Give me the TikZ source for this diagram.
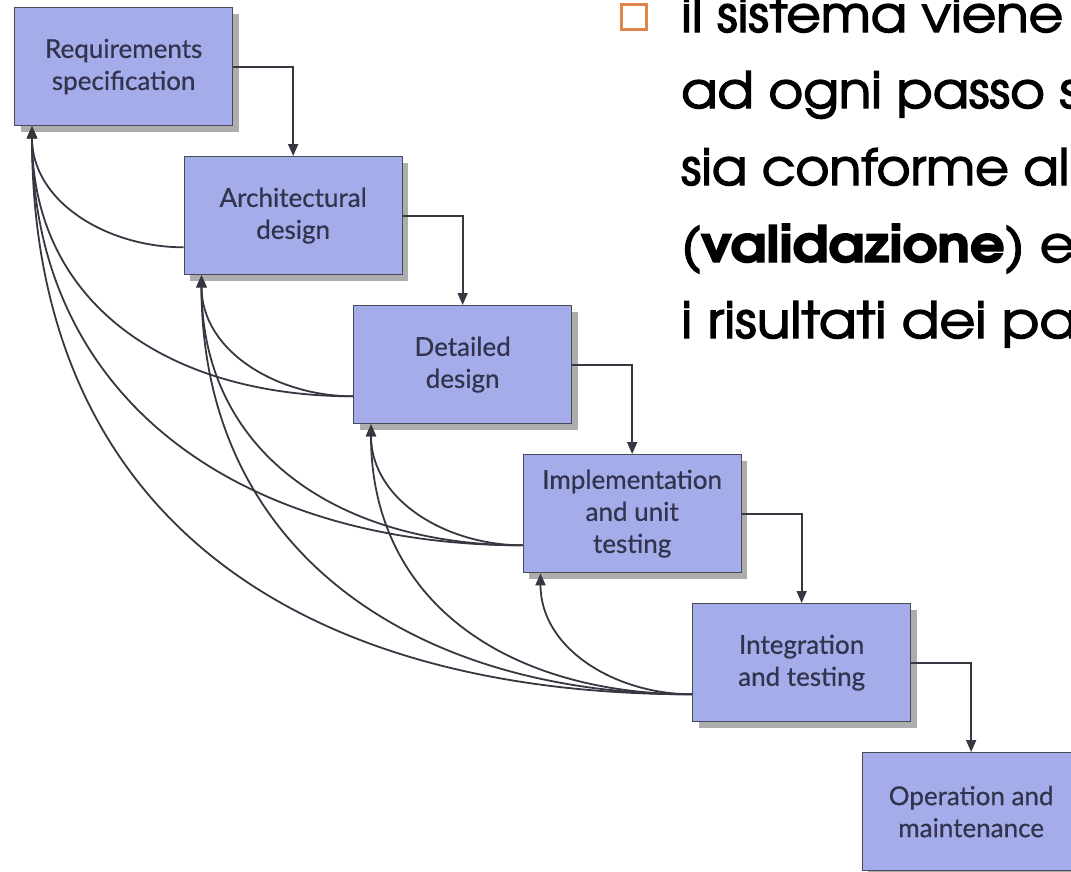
\documentclass[tikz,border=0pt]{standalone}
\usepackage{fontspec}
\setmainfont{Lato}[FakeBold=0.6]
\newfontfamily\slidefont{texgyreadventor-regular}[Extension=.otf, FakeBold=2.5]
\newfontfamily\slidebold{texgyreadventor-bold}[Extension=.otf, FakeBold=2.5]
\usetikzlibrary{arrows.meta,shadows,calc}

\definecolor{boxfill}{RGB}{165,172,234}
\definecolor{boxline}{RGB}{72,74,90}
\definecolor{boxtext}{RGB}{50,52,78}
\definecolor{wire}{RGB}{55,55,66}
\definecolor{bulletorange}{RGB}{224,132,74}

% one line of the bullet text, stretched to a given width
\newcommand{\slidetext}[2]{\resizebox{#1}{\height}{#2}}

\tikzset{
  phase/.style={draw=boxline, line width=1.3pt, fill=boxfill,
    minimum width=218pt, minimum height=118pt, anchor=north west,
    align=center, inner sep=0pt, text=boxtext,
    font=\fontsize{26}{32}\selectfont,
    general shadow={fill=black!32, shadow xshift=6pt, shadow yshift=-6pt}},
  flow/.style={draw=wire, line width=1.8pt, -{Triangle[length=12pt,width=10pt]}},
  feedback/.style={flow, out=180, in=-90},
  slideline/.style={anchor=base west, inner sep=0pt, text=black,
    font=\slidefont\fontsize{50}{60}\selectfont},
  bullet/.style={draw=bulletorange, line width=3pt, minimum size=25pt,
    inner sep=0pt, anchor=south west}
}

\begin{document}
\begin{tikzpicture}[x=1pt, y=1pt]
  \useasboundingbox (0,0) rectangle (1071,-871);
  \clip (0,0) rectangle (1071,-871);

  % process phases, each one step down and to the right
  \node[phase] (req)  at (14,-7)      {Requirements\\specification};
  \node[phase] (arch) at (183.5,-156) {Architectural\\design};
  \node[phase] (det)  at (353,-305)   {Detailed\\design};
  \node[phase] (impl) at (522.5,-454) {Implementation\\and unit\\testing};
  \node[phase] (integ) at (692,-603)  {Integration\\and testing};
  \node[phase] (ops)  at (861.5,-752) {Operation and\\maintenance};

  % forward flow between consecutive phases
  \draw[flow] (req.east)   -| (arch.north);
  \draw[flow] (arch.east)  -| (det.north);
  \draw[flow] (det.east)   -| (impl.north);
  \draw[flow] (impl.east)  -| (integ.north);
  \draw[flow] (integ.east) -| (ops.north);

  % entry points (bottom) and exit points (left side) of the feedback loops
  \foreach \n in {req,arch,det,impl}
    \coordinate (\n-in) at ($(\n.south west)+(18pt,0pt)$);
  \foreach \n in {arch,det,impl,integ}
    \coordinate (\n-out) at ($(\n.south west)+(0pt,28pt)$);

  % feedback loops back to every earlier phase
  \draw[feedback, looseness=1.0]  (arch-out)  to (req-in);
  \draw[feedback, looseness=1.0]  (det-out)   to (arch-in);
  \draw[feedback, looseness=1.1]  (det-out)   to (req-in);
  \draw[feedback, looseness=1.0]  (impl-out)  to (det-in);
  \draw[feedback, looseness=1.1]  (impl-out)  to (arch-in);
  \draw[feedback, looseness=1.1]  (impl-out)  to (req-in);
  \draw[feedback, looseness=1.0]  (integ-out) to (impl-in);
  \draw[feedback, looseness=1.1]  (integ-out) to (det-in);
  \draw[feedback, looseness=1.1]  (integ-out) to (arch-in);
  \draw[feedback, looseness=1.15] (integ-out) to (req-in);

  % bullet text beside the diagram
  \node[bullet] (mark) at (619.5,-30.5) {};
  \node[slideline] (l1) at (681,-32)  {\slidetext{382pt}{il sistema viene}};
  \node[slideline] (l2) at (681,-108) {\slidetext{399pt}{ad ogni passo s}};
  \node[slideline] (l3) at (681,-185) {\slidetext{388pt}{sia conforme al}};
  \node[slideline] (l4) at (681,-262) {\slidetext{394pt}{({\slidebold validazione}) e}};
  \node[slideline] (l5) at (681,-338) {\slidetext{396pt}{i risultati dei pa}};
\end{tikzpicture}
\end{document}
